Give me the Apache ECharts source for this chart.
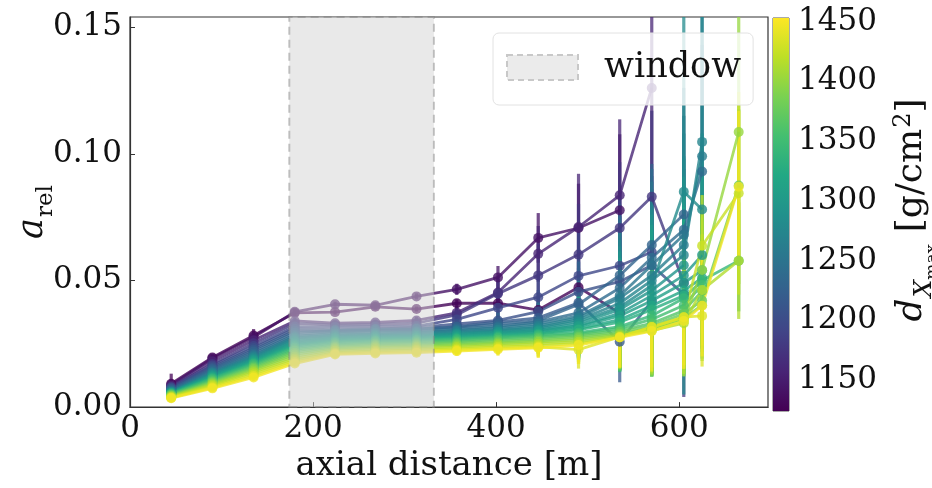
<!DOCTYPE html>
<html><head><meta charset="utf-8">
<script src="https://cdn.jsdelivr.net/npm/echarts@6/dist/echarts.min.js"></script>
<style>html,body{margin:0;padding:0;background:#fff}#c{width:932px;height:488px}</style>
</head><body><div id="c"></div>
<script>
// ---------------- data ----------------
const axialDistance = [45, 90, 135, 180, 224, 268, 313, 357, 402, 446, 490, 535, 570, 605, 625, 665];
const dXmax = [1127, 1141, 1158, 1176, 1194, 1206, 1217, 1229, 1240, 1251, 1262, 1271, 1281, 1291,
               1300, 1309, 1319, 1330, 1341, 1352, 1364, 1377, 1389, 1401, 1414, 1426, 1437, 1448];
const aRel = [
  [0.0092,0.0196,0.0283,0.0372,0.0375,0.0396,0.0387,0.0410,0.0410,0.0383,0.0473,0.0371],
  [0.0088,0.0192,0.0276,0.0376,0.0406,0.0402,0.0437,0.0465,0.0512,0.0668,0.0707,0.0777],
  [0.0084,0.0181,0.0264,0.0340,0.0331,0.0334,0.0342,0.0372,0.0452,0.0605,0.0711,0.0836,0.1260],
  [0.0079,0.0170,0.0252,0.0330,0.0324,0.0326,0.0331,0.0364,0.0448,0.0520,0.0602,0.0707,0.0830,0.0490],
  [0.0077,0.0164,0.0241,0.0318,0.0316,0.0318,0.0320,0.0346,0.0392,0.0434,0.0518,0.0558,0.0612],
  [0.0074,0.0158,0.0233,0.0309,0.0306,0.0309,0.0314,0.0328,0.0342,0.0377,0.0455,0.0495,0.0560,0.0445],
  [0.0071,0.0153,0.0226,0.0301,0.0299,0.0303,0.0306,0.0318,0.0336,0.0352,0.0412,0.0258,0.0418],
  [0.0069,0.0149,0.0219,0.0294,0.0303,0.0307,0.0309,0.0316,0.0328,0.0341,0.0405,0.0520,0.0640,0.0760],
  [0.0066,0.0144,0.0212,0.0286,0.0297,0.0300,0.0301,0.0309,0.0319,0.0336,0.0372,0.0470,0.0590,0.0700,0.0930],
  [0.0064,0.0139,0.0206,0.0280,0.0291,0.0294,0.0297,0.0304,0.0314,0.0329,0.0360,0.0440,0.0560,0.0680],
  [0.0061,0.0136,0.0201,0.0275,0.0286,0.0289,0.0293,0.0300,0.0307,0.0321,0.0352,0.0430,0.0520,0.0640,0.0990],
  [0.0060,0.0133,0.0197,0.0271,0.0282,0.0286,0.0288,0.0295,0.0304,0.0315,0.0345,0.0410,0.0500,0.0600,0.1047],
  [0.0059,0.0130,0.0193,0.0265,0.0278,0.0282,0.0284,0.0291,0.0299,0.0310,0.0338,0.0395,0.0480,0.0850,0.0780],
  [0.0058,0.0127,0.0189,0.0260,0.0274,0.0279,0.0281,0.0288,0.0296,0.0304,0.0330,0.0385,0.0460,0.0560],
  [0.0057,0.0124,0.0186,0.0255,0.0270,0.0275,0.0277,0.0284,0.0292,0.0301,0.0322,0.0370,0.0440,0.0520,0.0600],
  [0.0056,0.0121,0.0182,0.0250,0.0266,0.0271,0.0274,0.0280,0.0288,0.0296,0.0318,0.0360,0.0420,0.0490,0.0540],
  [0.0055,0.0118,0.0178,0.0245,0.0262,0.0268,0.0271,0.0276,0.0284,0.0291,0.0310,0.0345,0.0400,0.0460,0.0510],
  [0.0054,0.0115,0.0174,0.0240,0.0258,0.0264,0.0267,0.0272,0.0280,0.0288,0.0305,0.0335,0.0385,0.0440],
  [0.0052,0.0112,0.0170,0.0234,0.0253,0.0260,0.0263,0.0268,0.0276,0.0284,0.0294,0.0318,0.0361,0.0430,0.0500,0.0578],
  [0.0051,0.0108,0.0165,0.0228,0.0248,0.0255,0.0258,0.0263,0.0272,0.0279,0.0289,0.0311,0.0346,0.0402,0.0482],
  [0.0049,0.0104,0.0160,0.0222,0.0243,0.0250,0.0253,0.0258,0.0266,0.0274,0.0284,0.0303,0.0331,0.0381,0.0458],
  [0.0047,0.0100,0.0155,0.0215,0.0238,0.0245,0.0248,0.0253,0.0260,0.0268,0.0278,0.0296,0.0321,0.0368,0.0421,0.0875],
  [0.0045,0.0096,0.0150,0.0208,0.0233,0.0240,0.0243,0.0248,0.0255,0.0262,0.0272,0.0290,0.0311,0.0351,0.0402],
  [0.0043,0.0092,0.0144,0.0200,0.0228,0.0235,0.0238,0.0243,0.0250,0.0257,0.0265,0.0285,0.0306,0.0342,0.0541,0.1086],
  [0.0041,0.0088,0.0138,0.0192,0.0222,0.0228,0.0232,0.0237,0.0244,0.0250,0.0258,0.0281,0.0302,0.0331,0.0462,0.0578],
  [0.0039,0.0083,0.0130,0.0185,0.0216,0.0222,0.0226,0.0231,0.0238,0.0243,0.0251,0.0277,0.0316,0.0355,0.0637,0.0844],
  [0.0037,0.0078,0.0123,0.0178,0.0212,0.0217,0.0220,0.0226,0.0232,0.0238,0.0227,0.0277,0.0316,0.0355,0.0360],
  [0.0035,0.0074,0.0117,0.0172,0.0208,0.0212,0.0215,0.0221,0.0228,0.0234,0.0245,0.0275,0.0300,0.0340,0.0400,0.0870]
];
const aErr = [
  [0.0040,0.0012,0.0025,0.0012,0.0010,0.0010,0.0010,0.0015,0.0020,0.0025,0.0075,0.0180],
  [0.0020,0.0012,0.0020,0.0012,0.0010,0.0010,0.0012,0.0022,0.0045,0.0098,0.0175,0.0300],
  [0.0015,0.0012,0.0020,0.0012,0.0010,0.0010,0.0015,0.0028,0.0055,0.0110,0.0210,0.0300,0.0450],
  [0.0015,0.0010,0.0018,0.0012,0.0010,0.0012,0.0016,0.0030,0.0060,0.0125,0.0200,0.0260,0.0340,0.0450],
  [0.0012,0.0010,0.0018,0.0012,0.0010,0.0012,0.0016,0.0030,0.0055,0.0090,0.0180,0.0280,0.0300],
  [0.0012,0.0010,0.0016,0.0012,0.0010,0.0012,0.0016,0.0028,0.0050,0.0085,0.0170,0.0260,0.0300,0.0250],
  [0.0012,0.0010,0.0016,0.0012,0.0010,0.0012,0.0018,0.0025,0.0045,0.0080,0.0160,0.0160,0.0270],
  [0.0012,0.0010,0.0015,0.0010,0.0010,0.0012,0.0018,0.0025,0.0045,0.0075,0.0170,0.0280,0.0320,0.0500],
  [0.0012,0.0010,0.0015,0.0010,0.0010,0.0012,0.0018,0.0025,0.0040,0.0075,0.0150,0.0280,0.0350,0.0450,0.0500],
  [0.0012,0.0010,0.0015,0.0010,0.0010,0.0012,0.0018,0.0025,0.0040,0.0070,0.0150,0.0260,0.0330,0.0400],
  [0.0012,0.0010,0.0015,0.0010,0.0010,0.0012,0.0018,0.0025,0.0040,0.0070,0.0140,0.0260,0.0320,0.0350,0.0550],
  [0.0012,0.0010,0.0015,0.0010,0.0010,0.0012,0.0018,0.0025,0.0040,0.0065,0.0140,0.0250,0.0300,0.0380,0.0700],
  [0.0012,0.0010,0.0015,0.0010,0.0010,0.0012,0.0018,0.0025,0.0040,0.0065,0.0130,0.0240,0.0300,0.0800,0.0300],
  [0.0012,0.0010,0.0015,0.0010,0.0010,0.0012,0.0018,0.0025,0.0040,0.0060,0.0130,0.0230,0.0300,0.0350],
  [0.0010,0.0010,0.0014,0.0010,0.0010,0.0012,0.0017,0.0025,0.0035,0.0060,0.0120,0.0220,0.0280,0.0320,0.0350],
  [0.0010,0.0010,0.0014,0.0010,0.0010,0.0012,0.0017,0.0025,0.0035,0.0060,0.0120,0.0210,0.0280,0.0300,0.0300],
  [0.0010,0.0010,0.0014,0.0010,0.0010,0.0012,0.0017,0.0022,0.0035,0.0055,0.0110,0.0200,0.0260,0.0300,0.0280],
  [0.0010,0.0010,0.0014,0.0010,0.0010,0.0012,0.0017,0.0022,0.0035,0.0055,0.0110,0.0190,0.0250,0.0280],
  [0.0010,0.0010,0.0014,0.0010,0.0010,0.0012,0.0016,0.0022,0.0032,0.0050,0.0100,0.0180,0.0240,0.0280,0.0250,0.0200],
  [0.0010,0.0010,0.0013,0.0010,0.0010,0.0011,0.0016,0.0022,0.0032,0.0050,0.0100,0.0170,0.0220,0.0260,0.0250],
  [0.0010,0.0010,0.0013,0.0010,0.0010,0.0011,0.0016,0.0020,0.0030,0.0050,0.0090,0.0160,0.0210,0.0250,0.0240],
  [0.0010,0.0010,0.0013,0.0010,0.0010,0.0011,0.0015,0.0020,0.0030,0.0045,0.0090,0.0150,0.0200,0.0240,0.0230,0.0300],
  [0.0010,0.0010,0.0013,0.0010,0.0010,0.0011,0.0015,0.0020,0.0030,0.0045,0.0085,0.0140,0.0190,0.0230,0.0220],
  [0.0010,0.0010,0.0012,0.0010,0.0010,0.0011,0.0015,0.0020,0.0028,0.0045,0.0085,0.0130,0.0180,0.0220,0.0250,0.0600],
  [0.0010,0.0010,0.0012,0.0010,0.0010,0.0011,0.0015,0.0020,0.0028,0.0040,0.0080,0.0130,0.0170,0.0200,0.0220,0.0230],
  [0.0010,0.0010,0.0012,0.0010,0.0010,0.0011,0.0014,0.0020,0.0028,0.0040,0.0080,0.0120,0.0170,0.0200,0.0200,0.0400],
  [0.0010,0.0010,0.0012,0.0010,0.0010,0.0011,0.0014,0.0018,0.0025,0.0040,0.0075,0.0120,0.0160,0.0190,0.0200],
  [0.0010,0.0010,0.0012,0.0010,0.0010,0.0011,0.0014,0.0018,0.0025,0.0040,0.0075,0.0120,0.0160,0.0190,0.0200,0.0300]
];
const windowRange = [174, 332];
const xTicks = [0, 200, 400, 600];
const yTicks = [0.00, 0.05, 0.10, 0.15];
const cbarRange = [1124, 1453];
const cbarTicks = [1150, 1200, 1250, 1300, 1350, 1400, 1450];
// ---------------------------------------------------------------

const FONT = 'DejaVu Serif';
const viridis = ['#440154','#482475','#414487','#355f8d','#2a788e','#21918c','#22a884','#44bf70','#7ad151','#bddf26','#fde725'];
function hexRgb(h){return [parseInt(h.slice(1,3),16),parseInt(h.slice(3,5),16),parseInt(h.slice(5,7),16)];}
function cmap(t){
  t = Math.max(0, Math.min(1, t));
  const s = t * 10, i = Math.min(9, Math.floor(s)), f = s - i;
  const a = hexRgb(viridis[i]), b = hexRgb(viridis[i+1]);
  return 'rgb(' + a.map((v,k)=>Math.round(v + (b[k]-v)*f)).join(',') + ')';
}

const series = [];
aRel.forEach((vals, k) => {
  const col = cmap((dXmax[k] - cbarRange[0]) / (cbarRange[1] - cbarRange[0]));
  const pts = vals.map((v, i) => [axialDistance[i], v, aErr[k][i]]);
  series.push({
    type: 'custom', name: 'err' + k, xAxisIndex: 0, yAxisIndex: 0, clip: true, silent: true, z: 2,
    dimensions: ['x','y','e'], encode: {x: 0, y: 1}, data: pts,
    renderItem: (params, api) => {
      const x = api.value(0), y = api.value(1), e = api.value(2);
      const p1 = api.coord([x, y - e]), p2 = api.coord([x, y + e]);
      return {type: 'line', shape: {x1: p1[0], y1: p1[1], x2: p2[0], y2: p2[1]},
              style: {stroke: col, lineWidth: 3.2, opacity: 0.75}};
    }
  });
  series.push({
    type: 'line', name: 'd' + dXmax[k], xAxisIndex: 0, yAxisIndex: 0, z: 3, clip: true, silent: true,
    data: pts.map(p => [p[0], p[1]]), symbol: 'circle', symbolSize: 10, showSymbol: true,
    lineStyle: {color: col, width: 2.8, opacity: 0.8}, itemStyle: {color: col, opacity: 0.8},
    emphasis: {disabled: true}
  });
});

// window shading (drawn on top of the lines, as in the reference)
series.push({
  type: 'line', name: 'window', xAxisIndex: 0, yAxisIndex: 0, data: [], z: 10, silent: true,
  itemStyle: {color: '#ebebeb'},
  markArea: {
    silent: true, z: 10,
    itemStyle: {color: 'rgba(211,211,211,0.5)', borderColor: 'rgba(128,128,128,0.45)', borderWidth: 2, borderType: [8, 5]},
    data: [[{xAxis: windowRange[0]}, {xAxis: windowRange[1]}]]
  }
});

// colorbar
series.push({
  type: 'custom', name: 'cbar', xAxisIndex: 1, yAxisIndex: 1, silent: true, z: 2,
  data: [[0, cbarRange[0], cbarRange[1]]],
  renderItem: (params, api) => {
    const p1 = api.coord([0, api.value(2)]), p2 = api.coord([1, api.value(1)]);
    return {type: 'rect', shape: {x: p1[0], y: p1[1], width: p2[0] - p1[0], height: p2[1] - p1[1]},
      style: {fill: {type: 'linear', x: 0, y: 1, x2: 0, y2: 0,
        colorStops: viridis.map((c, i) => ({offset: i / 10, color: c}))}}};
  }
});

const chart = echarts.init(document.getElementById('c'), null, {renderer: 'canvas'});
chart.setOption({
  animation: false,
  backgroundColor: '#fff',
  textStyle: {fontFamily: FONT},
  grid: [
    {left: 130, top: 17, width: 638, height: 394, show: true, borderColor: '#333', borderWidth: 1.2, backgroundColor: 'transparent'},
    {left: 773, top: 18, width: 16, height: 393, show: true, borderColor: '#555', borderWidth: 1, backgroundColor: 'transparent'}
  ],
  xAxis: [
    {type: 'value', gridIndex: 0, min: 0, max: 697, interval: 200,
     axisLine: {show: true, onZero: false, lineStyle: {color: '#333', width: 1.2}},
     axisTick: {show: true, inside: true, length: 5, lineStyle: {color: '#333'}},
     splitLine: {show: false},
     axisLabel: {show: true, showMaxLabel: false, fontSize: 31, color: '#111', fontFamily: FONT, margin: 6},
     name: 'axial distance [m]', nameLocation: 'middle', nameGap: 40,
     nameTextStyle: {fontSize: 34, color: '#111', fontFamily: FONT}},
    {type: 'value', gridIndex: 1, min: 0, max: 1, show: false}
  ],
  yAxis: [
    {type: 'value', gridIndex: 0, min: 0, max: 0.154, interval: 0.05,
     axisLine: {show: true, onZero: false, lineStyle: {color: '#333', width: 1.2}},
     axisTick: {show: true, inside: true, length: 5, lineStyle: {color: '#333'}},
     splitLine: {show: false},
     axisLabel: {show: true, showMaxLabel: false, fontSize: 31, color: '#111', fontFamily: FONT, margin: 8,
                 formatter: v => v.toFixed(2)}},
    {type: 'value', gridIndex: 1, min: cbarRange[0], max: cbarRange[1], position: 'right',
     axisLine: {show: false}, splitLine: {show: false},
     axisTick: {show: true, inside: false, length: 5, customValues: cbarTicks, lineStyle: {color: '#333'}},
     axisLabel: {show: true, customValues: cbarTicks, fontSize: 31, color: '#111', fontFamily: FONT, margin: 9,
                 formatter: v => String(v)}}
  ],
  legend: {
    show: true, left: 493, top: 33, orient: 'vertical',
    padding: [17, 12, 20, 13], itemWidth: 71, itemHeight: 25,
    backgroundColor: 'rgba(255,255,255,0.8)', borderColor: '#e2e2e2', borderWidth: 1, borderRadius: 6,
    selectedMode: false,
    textStyle: {fontSize: 35, color: '#111', fontFamily: FONT, padding: [0, 0, 0, 21]},
    data: [{name: 'window', icon: 'rect',
            itemStyle: {color: '#ebebeb', borderColor: '#c8c8c8', borderWidth: 2, borderType: [6, 4], opacity: 1}}]
  },
  graphic: [
    {type: 'text', x: 33, y: 212, rotation: Math.PI / 2, silent: true,
     style: {text: '{a|a}{s|rel}', align: 'center', verticalAlign: 'middle', fill: '#111',
       rich: {
         a: {fontFamily: FONT, fontStyle: 'italic', fontSize: 35, lineHeight: 36, verticalAlign: 'top', fill: '#111'},
         s: {fontFamily: FONT, fontSize: 23, lineHeight: 23, verticalAlign: 'top', padding: [20, 0, 0, 1], fill: '#111'}
       }}},
    {type: 'text', x: 913, y: 210, rotation: Math.PI / 2, silent: true,
     style: {text: '{d|d}{x|X}{m|max}{t| [g/cm}{p|2}{t|]}', align: 'center', verticalAlign: 'middle', fill: '#111',
       rich: {
         d: {fontFamily: FONT, fontStyle: 'italic', fontSize: 36, lineHeight: 38, verticalAlign: 'top', fill: '#111'},
         x: {fontFamily: FONT, fontStyle: 'italic', fontSize: 25, lineHeight: 25, verticalAlign: 'top', padding: [18, 0, 0, 1], fill: '#111'},
         m: {fontFamily: FONT, fontSize: 17, lineHeight: 17, verticalAlign: 'top', padding: [30, 0, 0, 0], fill: '#111'},
         t: {fontFamily: FONT, fontSize: 36, lineHeight: 38, verticalAlign: 'top', fill: '#111'},
         p: {fontFamily: FONT, fontSize: 24, lineHeight: 24, verticalAlign: 'top', padding: [-2, 0, 0, 1], fill: '#111'}
       }}}
  ],
  series: series
});
</script></body></html>
